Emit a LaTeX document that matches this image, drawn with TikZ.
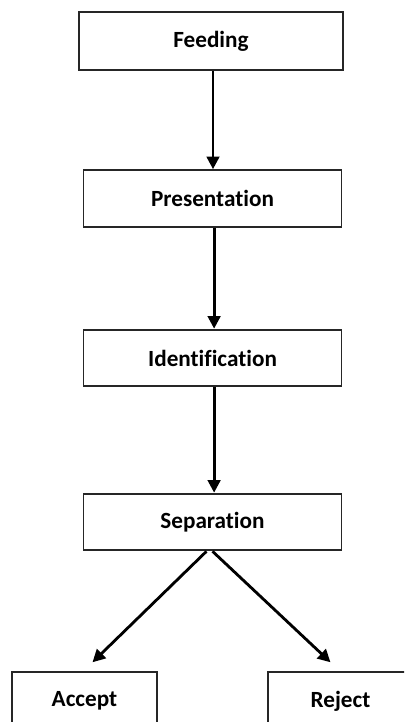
\documentclass[tikz,border=0pt]{standalone}
\usepackage{fontspec}
\setmainfont{Carlito}[Ligatures=NoCommon]
\usepackage{tikz}
\usetikzlibrary{arrows.meta,positioning,calc}

\tikzset{
    stagebox/.style={draw=black!85, line width=1.3pt, fill=white, minimum width=6.45cm, minimum height=1.42cm, font=\fontsize{16.5}{19}\selectfont\bfseries},
    endbox/.style={stagebox, minimum width=3.62cm, minimum height=1.45cm},
    flow/.style={-{Triangle[length=9pt,width=9pt]}, line width=2pt}
}

\begin{document}
\begin{tikzpicture}
    \useasboundingbox (0,0) rectangle (10.1,18.05);
    \clip (0,0) rectangle (10.1,18.05);

    % Stages
    \node[stagebox, minimum width=6.6cm, minimum height=1.45cm] (feed) at (5.275,17.025) {Feeding};
    \node[stagebox] (pres) at (5.3125,13.0875) {Presentation};
    \node[stagebox] (iden) at (5.3125,9.1) {Identification};
    \node[stagebox] (sep) at (5.3125,5.0) {Separation};

    % Outcomes
    \node[endbox] (acc) at (2.1125,0.525) {Accept};
    \node[endbox] (rej) at (8.5125,0.525) {Reject};

    % Arrows
    \draw[flow] ([xshift=0.05cm]feed.south) -- ([xshift=0.05cm]feed.south |- pres.north);
    \draw[flow] ([xshift=0.04cm]pres.south) -- ([xshift=0.04cm]pres.south |- iden.north);
    \draw[flow] ([xshift=0.04cm]iden.south) -- ([xshift=0.04cm]iden.south |- sep.north);
    \draw[flow] ([xshift=-0.15cm]sep.south) -- ([xshift=0.2cm,yshift=0.22cm]acc.north);
    \draw[flow] ([xshift=0.0cm]sep.south) -- ([xshift=-0.25cm,yshift=0.22cm]rej.north);
\end{tikzpicture}
\end{document}
